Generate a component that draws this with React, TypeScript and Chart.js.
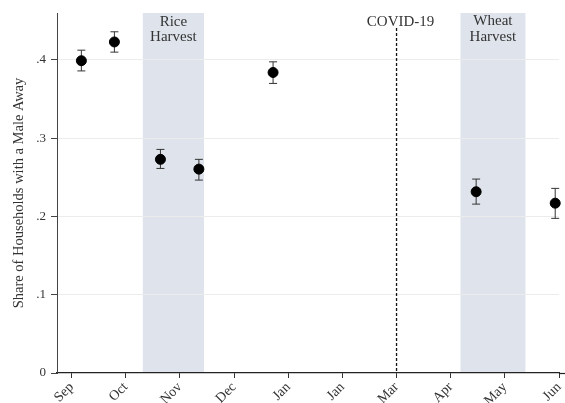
import React, { useEffect, useRef } from "react";
import { Chart, registerables } from "chart.js";

Chart.register(...registerables);

const monthLabels = ["Sep", "Oct", "Nov", "Dec", "Jan", "Jan", "Mar", "Apr", "May", "Jun"];
const yTickValues = [0, 0.1, 0.2, 0.3, 0.4];
const pointMonth = [0.18, 0.79, 1.64, 2.35, 3.72, 7.47, 8.93];
const shareAway = [0.399, 0.423, 0.273, 0.2605, 0.384, 0.2316, 0.217];
const ciLow = [0.386, 0.41, 0.2614, 0.2465, 0.37, 0.2158, 0.1976];
const ciHigh = [0.4125, 0.436, 0.2857, 0.273, 0.3976, 0.2478, 0.2359];
const riceHarvest = [1.314, 2.445];
const wheatHarvest = [7.18, 8.38];
const covidMonth = 6.0;

const FONT = "'Liberation Serif', 'Times New Roman', serif";

const overlayPlugin = {
  id: "overlay",
  beforeDraw(chart: any) {
    const { ctx, chartArea, scales } = chart;
    const x = scales.x;
    ctx.save();
    ctx.fillStyle = "rgb(223,228,236)";
    for (const [a, b] of [riceHarvest, wheatHarvest]) {
      const xa = x.getPixelForValue(a);
      const xb = x.getPixelForValue(b);
      ctx.fillRect(xa, chartArea.top, xb - xa, chartArea.bottom - chartArea.top);
    }
    ctx.restore();
  },
  beforeDatasetsDraw(chart: any) {
    const { ctx, chartArea, scales } = chart;
    const x = scales.x;
    const y = scales.y;
    ctx.save();
    // extend the x axis line to the canvas edge
    ctx.strokeStyle = "#222";
    ctx.lineWidth = 1.2;
    ctx.beginPath();
    ctx.moveTo(chartArea.right, chartArea.bottom + 0.5);
    ctx.lineTo(chart.width, chartArea.bottom + 0.5);
    ctx.stroke();
    // COVID line
    const cx = x.getPixelForValue(covidMonth);
    ctx.strokeStyle = "#111";
    ctx.lineWidth = 1.3;
    ctx.setLineDash([3, 2]);
    ctx.beginPath();
    ctx.moveTo(cx, chartArea.top + 15);
    ctx.lineTo(cx, chartArea.bottom);
    ctx.stroke();
    ctx.setLineDash([]);
    // error bars
    ctx.strokeStyle = "#333";
    ctx.lineWidth = 1;
    for (let i = 0; i < pointMonth.length; i++) {
      const px = x.getPixelForValue(pointMonth[i]);
      const lo = y.getPixelForValue(ciLow[i]);
      const hi = y.getPixelForValue(ciHigh[i]);
      ctx.beginPath();
      ctx.moveTo(px, lo);
      ctx.lineTo(px, hi);
      ctx.moveTo(px - 4, lo);
      ctx.lineTo(px + 4, lo);
      ctx.moveTo(px - 4, hi);
      ctx.lineTo(px + 4, hi);
      ctx.stroke();
    }
    // labels
    ctx.fillStyle = "#333";
    ctx.font = "15px " + FONT;
    ctx.textAlign = "center";
    ctx.textBaseline = "middle";
    const rc = (x.getPixelForValue(riceHarvest[0]) + x.getPixelForValue(riceHarvest[1])) / 2;
    const wc = (x.getPixelForValue(wheatHarvest[0]) + x.getPixelForValue(wheatHarvest[1])) / 2;
    ctx.fillText("Rice", rc, chartArea.top + 9);
    ctx.fillText("Harvest", rc, chartArea.top + 24);
    ctx.fillText("Wheat", wc, chartArea.top + 8);
    ctx.fillText("Harvest", wc, chartArea.top + 24);
    ctx.fillText("COVID-19", cx + 4, chartArea.top + 9);
    ctx.restore();
  },
};

export default function App() {
  const ref = useRef<HTMLCanvasElement>(null);
  useEffect(() => {
    document.body.style.margin = "0";
    const chart = new Chart(ref.current as HTMLCanvasElement, {
      type: "scatter",
      data: {
        datasets: [
          {
            data: pointMonth.map((m, i) => ({ x: m, y: shareAway[i] })),
            backgroundColor: "#000",
            borderColor: "#000",
            pointRadius: 5,
            pointHoverRadius: 5,
            clip: false,
          },
        ],
      },
      options: {
        animation: false,
        responsive: false,
        events: [],
        layout: { padding: { top: 13, right: 0, left: 0, bottom: 0 } },
        plugins: { legend: { display: false }, tooltip: { enabled: false } },
        scales: {
          x: {
            type: "linear",
            min: -0.27,
            max: 9.0,
            afterBuildTicks: (s: any) => {
              s.ticks = monthLabels.map((_, i) => ({ value: i }));
            },
            afterFit: (s: any) => {
              s.height = 30;
              s.paddingLeft = 0;
              s.paddingRight = 0;
            },
            grid: {
              drawOnChartArea: false,
              drawTicks: true,
              tickLength: 5,
              tickColor: "#333",
            },
            border: { color: "#222", width: 1.2 },
            ticks: {
              autoSkip: false,
              minRotation: 45,
              maxRotation: 45,
              padding: 1,
              color: "#333",
              font: { family: FONT, size: 14 },
              callback: (v: any) => monthLabels[Math.round(v)] ?? "",
            },
          },
          y: {
            min: 0,
            max: 0.46,
            afterBuildTicks: (s: any) => {
              s.ticks = yTickValues.map((v) => ({ value: v }));
            },
            afterFit: (s: any) => {
              s.width = 57;
            },
            grid: {
              color: (c: any) => (c.tick && c.tick.value === 0 ? "rgba(0,0,0,0)" : "#ececec"),
              tickColor: "#444",
              tickLength: 6,
              lineWidth: 1,
            },
            border: { color: "#444", width: 1 },
            ticks: {
              padding: 5,
              color: "#333",
              font: { family: FONT, size: 13 },
              callback: (v: any) => (v === 0 ? "0" : "." + Math.round(v * 10)),
            },
            title: {
              display: true,
              text: "Share of Households with a Male Away",
              color: "#333",
              font: { family: FONT, size: 14.5 },
              padding: { top: 10, bottom: 0 },
            },
          },
        },
      },
      plugins: [overlayPlugin],
    } as any);
    return () => chart.destroy();
  }, []);
  return (
    <div style={{ position: "fixed", left: 0, top: 0, width: 565, height: 403 }}>
      <canvas ref={ref} width={565} height={403} />
    </div>
  );
}
